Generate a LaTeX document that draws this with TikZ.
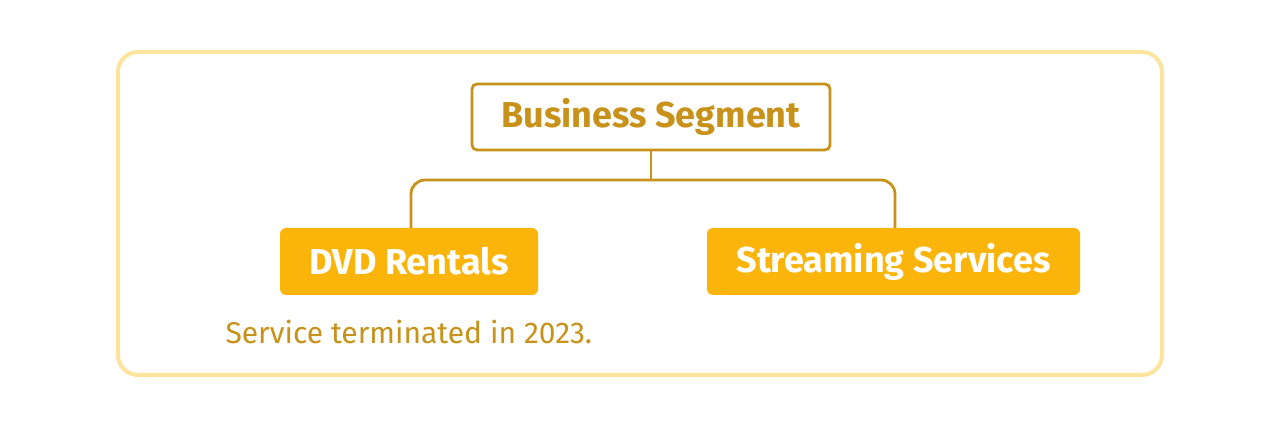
\documentclass[tikz,border=0pt]{standalone}
\usepackage{fontspec}
\setmainfont{Fira Sans}
\definecolor{gold}{HTML}{C8921A}
\definecolor{amber}{HTML}{FBB40A}
\definecolor{pale}{HTML}{FDE49C}
\begin{document}
\begin{tikzpicture}[x=1pt,y=-1pt,
  rootbox/.style={draw=gold,line width=2.8pt,fill=white,rounded corners=5pt,minimum width=358pt,minimum height=66pt,text=gold,font=\fontsize{36}{40}\selectfont\bfseries},
  leafbox/.style={fill=amber,rounded corners=6pt,minimum height=67pt,text=white,font=\fontsize{36}{40}\selectfont\bfseries},
  link/.style={draw=gold,line width=2.8pt,rounded corners=14pt},
  notetext/.style={text=gold,font=\fontsize{30}{34}\selectfont\mdseries}]
\useasboundingbox (0,0) rectangle (1280,427);
\fill[white] (0,0) rectangle (1280,427);
\draw[pale,line width=4pt,rounded corners=20pt] (118,52) rectangle (1162,375);
\node[rootbox] (root) at (651,117) {Business Segment};
\node[leafbox,minimum width=258pt] (dvd) at (409,261.5) {DVD Rentals};
\node[leafbox,minimum width=373pt] (stream) at (893.5,261.5) {Streaming Services};
\node[notetext,anchor=west] (note) at (222,332) {Service terminated in 2023.};
\coordinate (mid) at (651,180);
\draw[link] ([xshift=2pt]dvd.north) |- (mid) -| ([xshift=1.5pt]stream.north);
\draw[link] (root.south) -- (mid);
\end{tikzpicture}
\end{document}
